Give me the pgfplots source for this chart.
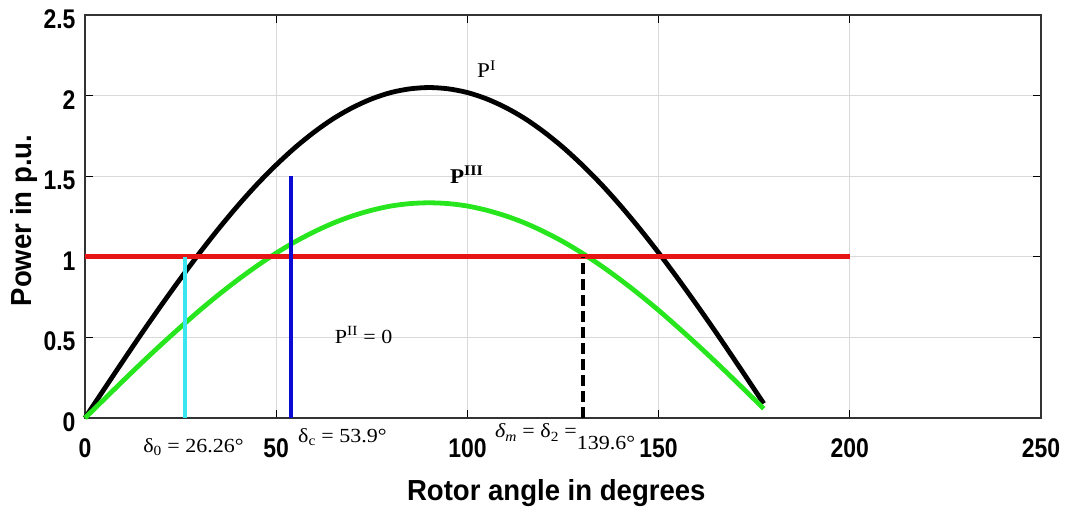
\documentclass[border=0pt]{standalone}
\usepackage{fontspec}
\setmainfont{Liberation Sans}
\newfontfamily\tickfont[FakeStretch=0.85]{Liberation Sans}
\newfontfamily\labfont[FakeStretch=0.95]{Liberation Sans}
\newfontfamily\serif[FakeStretch=1.1]{Liberation Serif}
\usepackage{pgfplots}
\pgfplotsset{compat=1.18}
\begin{document}
\begin{tikzpicture}
\useasboundingbox (0pt,0pt) rectangle (1074pt,512pt);
\begin{axis}[
  at={(85pt,94pt)}, anchor=south west,
  scale only axis, width=956pt, height=403pt,
  xmin=0, xmax=250, ymin=0, ymax=2.5,
  xtick={0,50,100,150,200,250},
  ytick={0,0.5,1,1.5,2,2.5},
  tick pos=both, tick align=inside,
  major tick length=8pt,
  every tick/.style={black, line width=1.2pt},
  grid=major,
  major grid style={gray!30, line width=0.8pt},
  axis line style={black!80, line width=1.6pt},
  /pgf/number format/assume math mode=true,
  ticklabel style={font=\tickfont\bfseries\fontsize{27}{27}\selectfont},
  xticklabel style={anchor=center, yshift=-30pt},
  yticklabel style={anchor=east, yshift=-4pt, xshift=-6pt},
  xlabel={Rotor angle in degrees},
  ylabel={Power in p.u.},
  label style={font=\labfont\bfseries\fontsize{29}{29}\selectfont},
  xlabel style={at={(axis description cs:0.493,-0.186)}, anchor=center},
  ylabel style={at={(axis description cs:-0.064,0.49)}, anchor=center},
  clip=false,
]
% P^I curve
\addplot[black, line width=4.8pt, smooth] coordinates {
(0,0) (5,0.179) (10,0.356) (15,0.531) (20,0.701) (25,0.866) (30,1.025)
(35,1.176) (40,1.318) (45,1.450) (50,1.570) (55,1.679) (60,1.775)
(65,1.858) (70,1.926) (75,1.980) (80,2.019) (85,2.042) (90,2.05)
(95,2.042) (100,2.019) (105,1.980) (110,1.926) (115,1.858) (120,1.775)
(125,1.679) (130,1.570) (135,1.450) (140,1.318) (145,1.176) (150,1.025)
(155,0.866) (160,0.701) (165,0.531) (170,0.356) (175,0.179) (177.5,0.09)
};
% P^III curve
\addplot[color={rgb,255:red,40;green,230;blue,30}, line width=4.8pt, smooth] coordinates {
(0,0) (5,0.116) (10,0.232) (15,0.346) (20,0.457) (25,0.564) (30,0.668)
(35,0.766) (40,0.858) (45,0.944) (50,1.023) (55,1.094) (60,1.156)
(65,1.210) (70,1.254) (75,1.289) (80,1.315) (85,1.330) (90,1.335)
(95,1.330) (100,1.315) (105,1.289) (110,1.254) (115,1.210) (120,1.156)
(125,1.094) (130,1.023) (135,0.944) (140,0.858) (145,0.766) (150,0.668)
(155,0.564) (160,0.457) (165,0.346) (170,0.232) (175,0.116) (177.5,0.058)
};
% mechanical input
\addplot[color={rgb,255:red,230;green,20;blue,20}, line width=5pt] coordinates {(0,1) (200,1)};
% delta_0
\addplot[color={rgb,255:red,60;green,230;blue,240}, line width=4pt] coordinates {(26.26,0) (26.26,1)};
% delta_c
\addplot[color={rgb,255:red,10;green,10;blue,210}, line width=4pt] coordinates {(53.9,0) (53.9,1.5)};
% delta_m
\addplot[black, line width=3.5pt, dash pattern=on 11pt off 5pt] coordinates {(130.2,0) (130.2,1)};
% annotations
\node[anchor=base west, inner sep=0pt, font=\serif\fontsize{21}{21}\selectfont] at (axis cs:102.5,2.11) {P\textsuperscript{I}};
\node[anchor=base west, inner sep=0pt, font=\serif\bfseries\fontsize{21}{21}\selectfont] at (axis cs:95.4,1.455) {P\textsuperscript{III}};
\node[anchor=base west, inner sep=0pt, font=\serif\fontsize{20}{20}\selectfont] at (axis cs:65.3,0.465) {P\textsuperscript{II} = 0};
\node[anchor=base west, inner sep=0pt, font=\serif\fontsize{20}{20}\selectfont] at (axis cs:15.2,-0.211) {δ\textsubscript{0} = 26.26°};
\node[anchor=base west, inner sep=0pt, font=\serif\fontsize{20}{20}\selectfont] at (axis cs:55.7,-0.149) {δ\textsubscript{c} = 53.9°};
\node[anchor=base west, inner sep=0pt, font=\serif\fontsize{20}{20}\selectfont] at (axis cs:107.2,-0.124) {\itshape δ\textsubscript{m}\upshape{} = δ\textsubscript{2} =\raisebox{-12pt}{139.6°}};
\end{axis}
\end{tikzpicture}
\end{document}
